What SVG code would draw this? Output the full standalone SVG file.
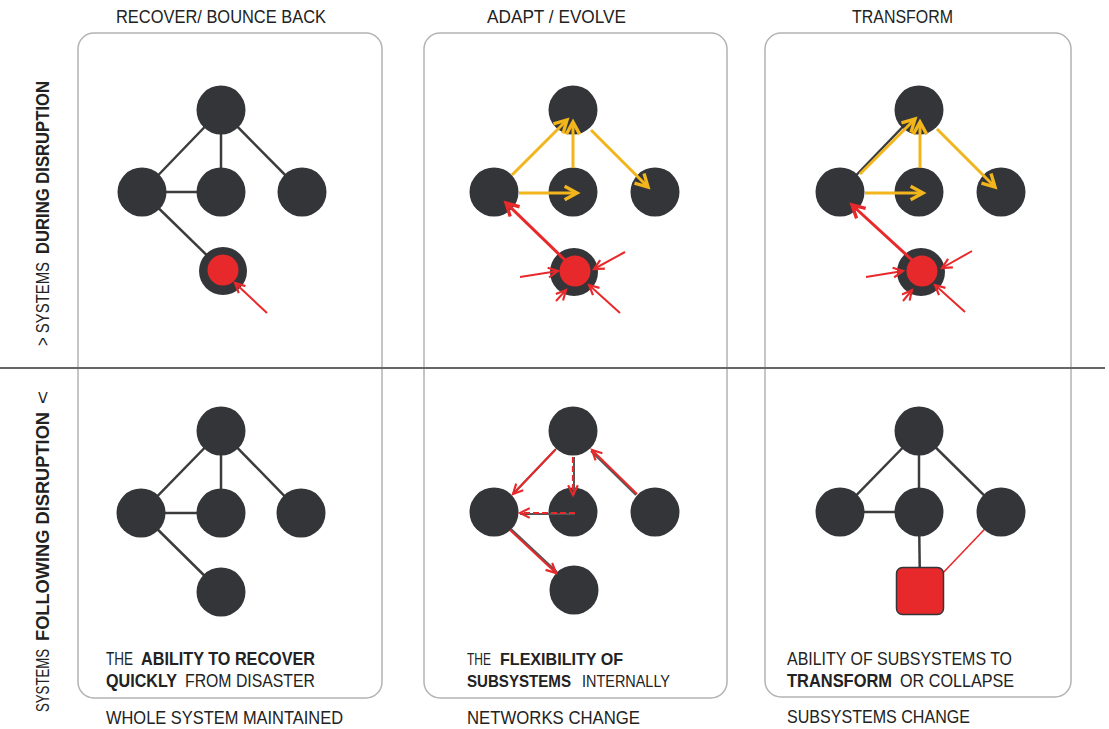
<svg xmlns="http://www.w3.org/2000/svg" width="1109" height="729" viewBox="0 0 1109 729">
<style>
.panel{fill:#fff;stroke:#b3b3b3;stroke-width:1.5}
.node{fill:#333538}
.redf{fill:#e8292b}
.sq{fill:#e8292b;stroke:#333538;stroke-width:1.5}
.edge{stroke:#3c3c3c;stroke-width:2.5;fill:none}
.ya{stroke:#f2b51c;stroke-width:3;fill:none;marker-end:url(#my)}
.ra{stroke:#e8292b;stroke-width:3;fill:none;marker-end:url(#mr)}
.rs{stroke:#e8292b;stroke-width:2;fill:none;marker-end:url(#mrs)}
.under{stroke:#555;stroke-width:2;fill:none}
.rd{stroke:#e8292b;stroke-width:2;fill:none;marker-end:url(#mrs)}
.rdd{stroke:#e8292b;stroke-width:2.2;fill:none;stroke-dasharray:6 3;marker-end:url(#mrs)}
.t{font-family:"Liberation Sans",Arial,sans-serif;font-size:18px;fill:#222}
.s{font-size:17px}
.b{font-weight:bold}
</style>
<defs>
<marker id="my" markerUnits="userSpaceOnUse" markerWidth="18" markerHeight="18" viewBox="0 0 16 16" refX="14" refY="8" orient="auto" overflow="visible"><path d="M3,2 L14,8 L3,14" fill="none" stroke="#f2b51c" stroke-width="3"/></marker>
<marker id="mr" markerUnits="userSpaceOnUse" markerWidth="18" markerHeight="18" viewBox="0 0 16 16" refX="14" refY="8" orient="auto" overflow="visible"><path d="M3,2 L14,8 L3,14" fill="none" stroke="#e8292b" stroke-width="3"/></marker>
<marker id="mrs" markerUnits="userSpaceOnUse" markerWidth="13" markerHeight="13" viewBox="0 0 12 12" refX="11" refY="6" orient="auto" overflow="visible"><path d="M2,1.5 L11,6 L2,10.5" fill="none" stroke="#e8292b" stroke-width="2"/></marker>
</defs>
<rect width="1109" height="729" fill="#fff"/>

<g id="panels">
<rect class="panel" x="78" y="33" width="304" height="665" rx="16"/>
<rect class="panel" x="424" y="33" width="303" height="665" rx="16"/>
<rect class="panel" x="765" y="33" width="306" height="664" rx="16"/>
</g>
<line x1="0" y1="368" x2="1105" y2="368" stroke="#666" stroke-width="2"/>

<g id="titles" class="t">
<text x="116" y="23" textLength="210" lengthAdjust="spacingAndGlyphs">RECOVER/ BOUNCE BACK</text>
<text x="487" y="23" textLength="139" lengthAdjust="spacingAndGlyphs">ADAPT / EVOLVE</text>
<text x="852" y="23" textLength="101" lengthAdjust="spacingAndGlyphs">TRANSFORM</text>
</g>

<g id="row-labels" class="t" transform="translate(49,0) rotate(-90)">
<text x="-346" y="0" textLength="84" lengthAdjust="spacingAndGlyphs">&gt; SYSTEMS</text>
<text class="b" x="-254" y="0" textLength="173" lengthAdjust="spacingAndGlyphs">DURING DISRUPTION</text>
<text x="-712" y="0" textLength="63" lengthAdjust="spacingAndGlyphs">SYSTEMS</text>
<text class="b" x="-641" y="0" textLength="229" lengthAdjust="spacingAndGlyphs">FOLLOWING DISRUPTION</text>
<text x="-404" y="0" textLength="13" lengthAdjust="spacingAndGlyphs">&lt;</text>
</g>

<g id="edges">
<line class="edge" x1="221" y1="110" x2="142" y2="192"/>
<line class="edge" x1="221" y1="110" x2="221" y2="192"/>
<line class="edge" x1="221" y1="110" x2="302" y2="192"/>
<line class="edge" x1="142" y1="192" x2="221" y2="192"/>
<line class="edge" x1="142" y1="192" x2="223" y2="271"/>
<line class="edge" x1="919" y1="110" x2="840" y2="192"/>
<line class="edge" x1="221" y1="431" x2="141" y2="513"/>
<line class="edge" x1="221" y1="431" x2="221" y2="513"/>
<line class="edge" x1="221" y1="431" x2="301" y2="513"/>
<line class="edge" x1="141" y1="513" x2="221" y2="513"/>
<line class="edge" x1="141" y1="513" x2="221" y2="592"/>
<line class="edge" x1="919" y1="431" x2="840" y2="512"/>
<line class="edge" x1="919" y1="431" x2="919" y2="512"/>
<line class="edge" x1="919" y1="431" x2="1001" y2="512"/>
<line class="edge" x1="840" y1="512" x2="919" y2="512"/>
<line class="edge" x1="919" y1="512" x2="920" y2="591"/>
<line stroke="#e8292b" stroke-width="1.6" x1="1001" y1="512" x2="940" y2="576"/>
</g>

<g id="nodes-recover-during">
<g id="a1-top"><circle class="node" cx="221" cy="110" r="24.5"/></g>
<g id="a1-left"><circle class="node" cx="142" cy="192" r="24.5"/></g>
<g id="a1-mid"><circle class="node" cx="221" cy="192" r="24.5"/></g>
<g id="a1-right"><circle class="node" cx="302" cy="192" r="24.5"/></g>
<g id="a1-hit"><circle class="node" cx="223" cy="271" r="24"/><circle class="redf" cx="223" cy="270" r="15.5"/></g>
</g>
<g id="nodes-adapt-during">
<g id="b1-top"><circle class="node" cx="573" cy="110" r="24.5"/></g>
<g id="b1-left"><circle class="node" cx="494" cy="192" r="24.5"/></g>
<g id="b1-mid"><circle class="node" cx="573" cy="192" r="24.5"/></g>
<g id="b1-right"><circle class="node" cx="655" cy="192" r="24.5"/></g>
<g id="b1-hit"><circle class="node" cx="574" cy="272" r="24"/><circle class="redf" cx="575" cy="271" r="15.5"/></g>
</g>
<g id="nodes-transform-during">
<g id="c1-top"><circle class="node" cx="919" cy="110" r="24.5"/></g>
<g id="c1-left"><circle class="node" cx="840" cy="192" r="24.5"/></g>
<g id="c1-mid"><circle class="node" cx="919" cy="192" r="24.5"/></g>
<g id="c1-right"><circle class="node" cx="1001" cy="192" r="24.5"/></g>
<g id="c1-hit"><circle class="node" cx="921" cy="272" r="24"/><circle class="redf" cx="922" cy="271" r="15.5"/></g>
</g>
<g id="nodes-recover-after">
<g id="a2-top"><circle class="node" cx="221" cy="431" r="24.5"/></g>
<g id="a2-left"><circle class="node" cx="141" cy="513" r="24.5"/></g>
<g id="a2-mid"><circle class="node" cx="221" cy="513" r="24.5"/></g>
<g id="a2-right"><circle class="node" cx="301" cy="513" r="24.5"/></g>
<g id="a2-bottom"><circle class="node" cx="221" cy="592" r="24.5"/></g>
</g>
<g id="nodes-adapt-after">
<g id="b2-top"><circle class="node" cx="573" cy="431" r="24.5"/></g>
<g id="b2-left"><circle class="node" cx="494" cy="512" r="24.5"/></g>
<g id="b2-mid"><circle class="node" cx="573" cy="512" r="24.5"/></g>
<g id="b2-right"><circle class="node" cx="655" cy="512" r="24.5"/></g>
<g id="b2-bottom"><circle class="node" cx="574" cy="590" r="24.5"/></g>
</g>
<g id="nodes-transform-after">
<g id="c2-top"><circle class="node" cx="919" cy="431" r="24.5"/></g>
<g id="c2-left"><circle class="node" cx="840" cy="512" r="24.5"/></g>
<g id="c2-mid"><circle class="node" cx="919" cy="512" r="24.5"/></g>
<g id="c2-right"><circle class="node" cx="1001" cy="512" r="24.5"/></g>
<g id="c2-new"><rect class="sq" x="896.5" y="567.5" width="47" height="47" rx="6"/></g>
</g>

<g id="arrows">
<line class="rs" x1="267" y1="313" x2="235" y2="283"/>

<line class="ya" x1="512" y1="175" x2="567" y2="120"/>
<line class="ya" x1="573" y1="168" x2="573" y2="122"/>
<line class="ya" x1="591" y1="130" x2="648" y2="187"/>
<line class="ya" x1="519" y1="193" x2="577" y2="193"/>
<line class="ra" x1="567" y1="262" x2="506" y2="203"/>
<line class="rs" x1="520" y1="277" x2="558" y2="271"/>
<line class="rs" x1="625" y1="252" x2="594" y2="269"/>
<line class="rs" x1="620" y1="313" x2="589" y2="285"/>
<line class="rs" x1="556" y1="301" x2="566" y2="290"/>

<line class="ya" x1="860" y1="174" x2="915" y2="119"/>
<line class="ya" x1="920" y1="168" x2="920" y2="122"/>
<line class="ya" x1="937" y1="129" x2="995" y2="187"/>
<line class="ya" x1="865" y1="193" x2="923" y2="193"/>
<line class="ra" x1="912" y1="260" x2="852" y2="205"/>
<line class="rs" x1="866" y1="277" x2="903" y2="271"/>
<line class="rs" x1="972" y1="251" x2="942" y2="268"/>
<line class="rs" x1="965" y1="312" x2="935" y2="285"/>
<line class="rs" x1="903" y1="301" x2="912" y2="290"/>

<line class="under" x1="556" y1="449" x2="514" y2="493"/>
<line class="rd" x1="555" y1="450" x2="513" y2="494"/>
<line class="under" x1="574" y1="457" x2="574" y2="495"/>
<line class="rdd" x1="573" y1="457" x2="573" y2="495"/>
<line class="under" x1="575" y1="514" x2="520" y2="514"/>
<line class="rdd" x1="575" y1="513" x2="520" y2="513"/>
<line class="under" x1="636" y1="495" x2="591" y2="451"/>
<line class="rd" x1="637" y1="494" x2="592" y2="450"/>
<line class="under" x1="511" y1="529" x2="557" y2="572"/>
<line class="rd" x1="510" y1="530" x2="556" y2="573"/>
</g>

<g id="descriptions" class="t">
<text x="106" y="665" textLength="27" lengthAdjust="spacingAndGlyphs">THE</text>
<text class="b" x="141" y="665" textLength="174" lengthAdjust="spacingAndGlyphs">ABILITY TO RECOVER</text>
<text class="b" x="106" y="687" textLength="71" lengthAdjust="spacingAndGlyphs">QUICKLY</text>
<text x="185" y="687" textLength="130" lengthAdjust="spacingAndGlyphs">FROM DISASTER</text>
<text class="s" x="467" y="665" textLength="24" lengthAdjust="spacingAndGlyphs">THE</text>
<text class="s b" x="500" y="665" textLength="123" lengthAdjust="spacingAndGlyphs">FLEXIBILITY OF</text>
<text class="s b" x="467" y="687" textLength="104" lengthAdjust="spacingAndGlyphs">SUBSYSTEMS</text>
<text class="s" x="582" y="687" textLength="88" lengthAdjust="spacingAndGlyphs">INTERNALLY</text>
<text x="787" y="665" textLength="225" lengthAdjust="spacingAndGlyphs">ABILITY OF SUBSYSTEMS TO</text>
<text class="b" x="787" y="687" textLength="105" lengthAdjust="spacingAndGlyphs">TRANSFORM</text>
<text x="900" y="687" textLength="114" lengthAdjust="spacingAndGlyphs">OR COLLAPSE</text>
</g>
<g id="captions" class="t">
<text x="106" y="724" textLength="237" lengthAdjust="spacingAndGlyphs">WHOLE SYSTEM MAINTAINED</text>
<text x="467" y="724" textLength="173" lengthAdjust="spacingAndGlyphs">NETWORKS CHANGE</text>
<text x="787" y="723" textLength="183" lengthAdjust="spacingAndGlyphs">SUBSYSTEMS CHANGE</text>
</g>
</svg>
